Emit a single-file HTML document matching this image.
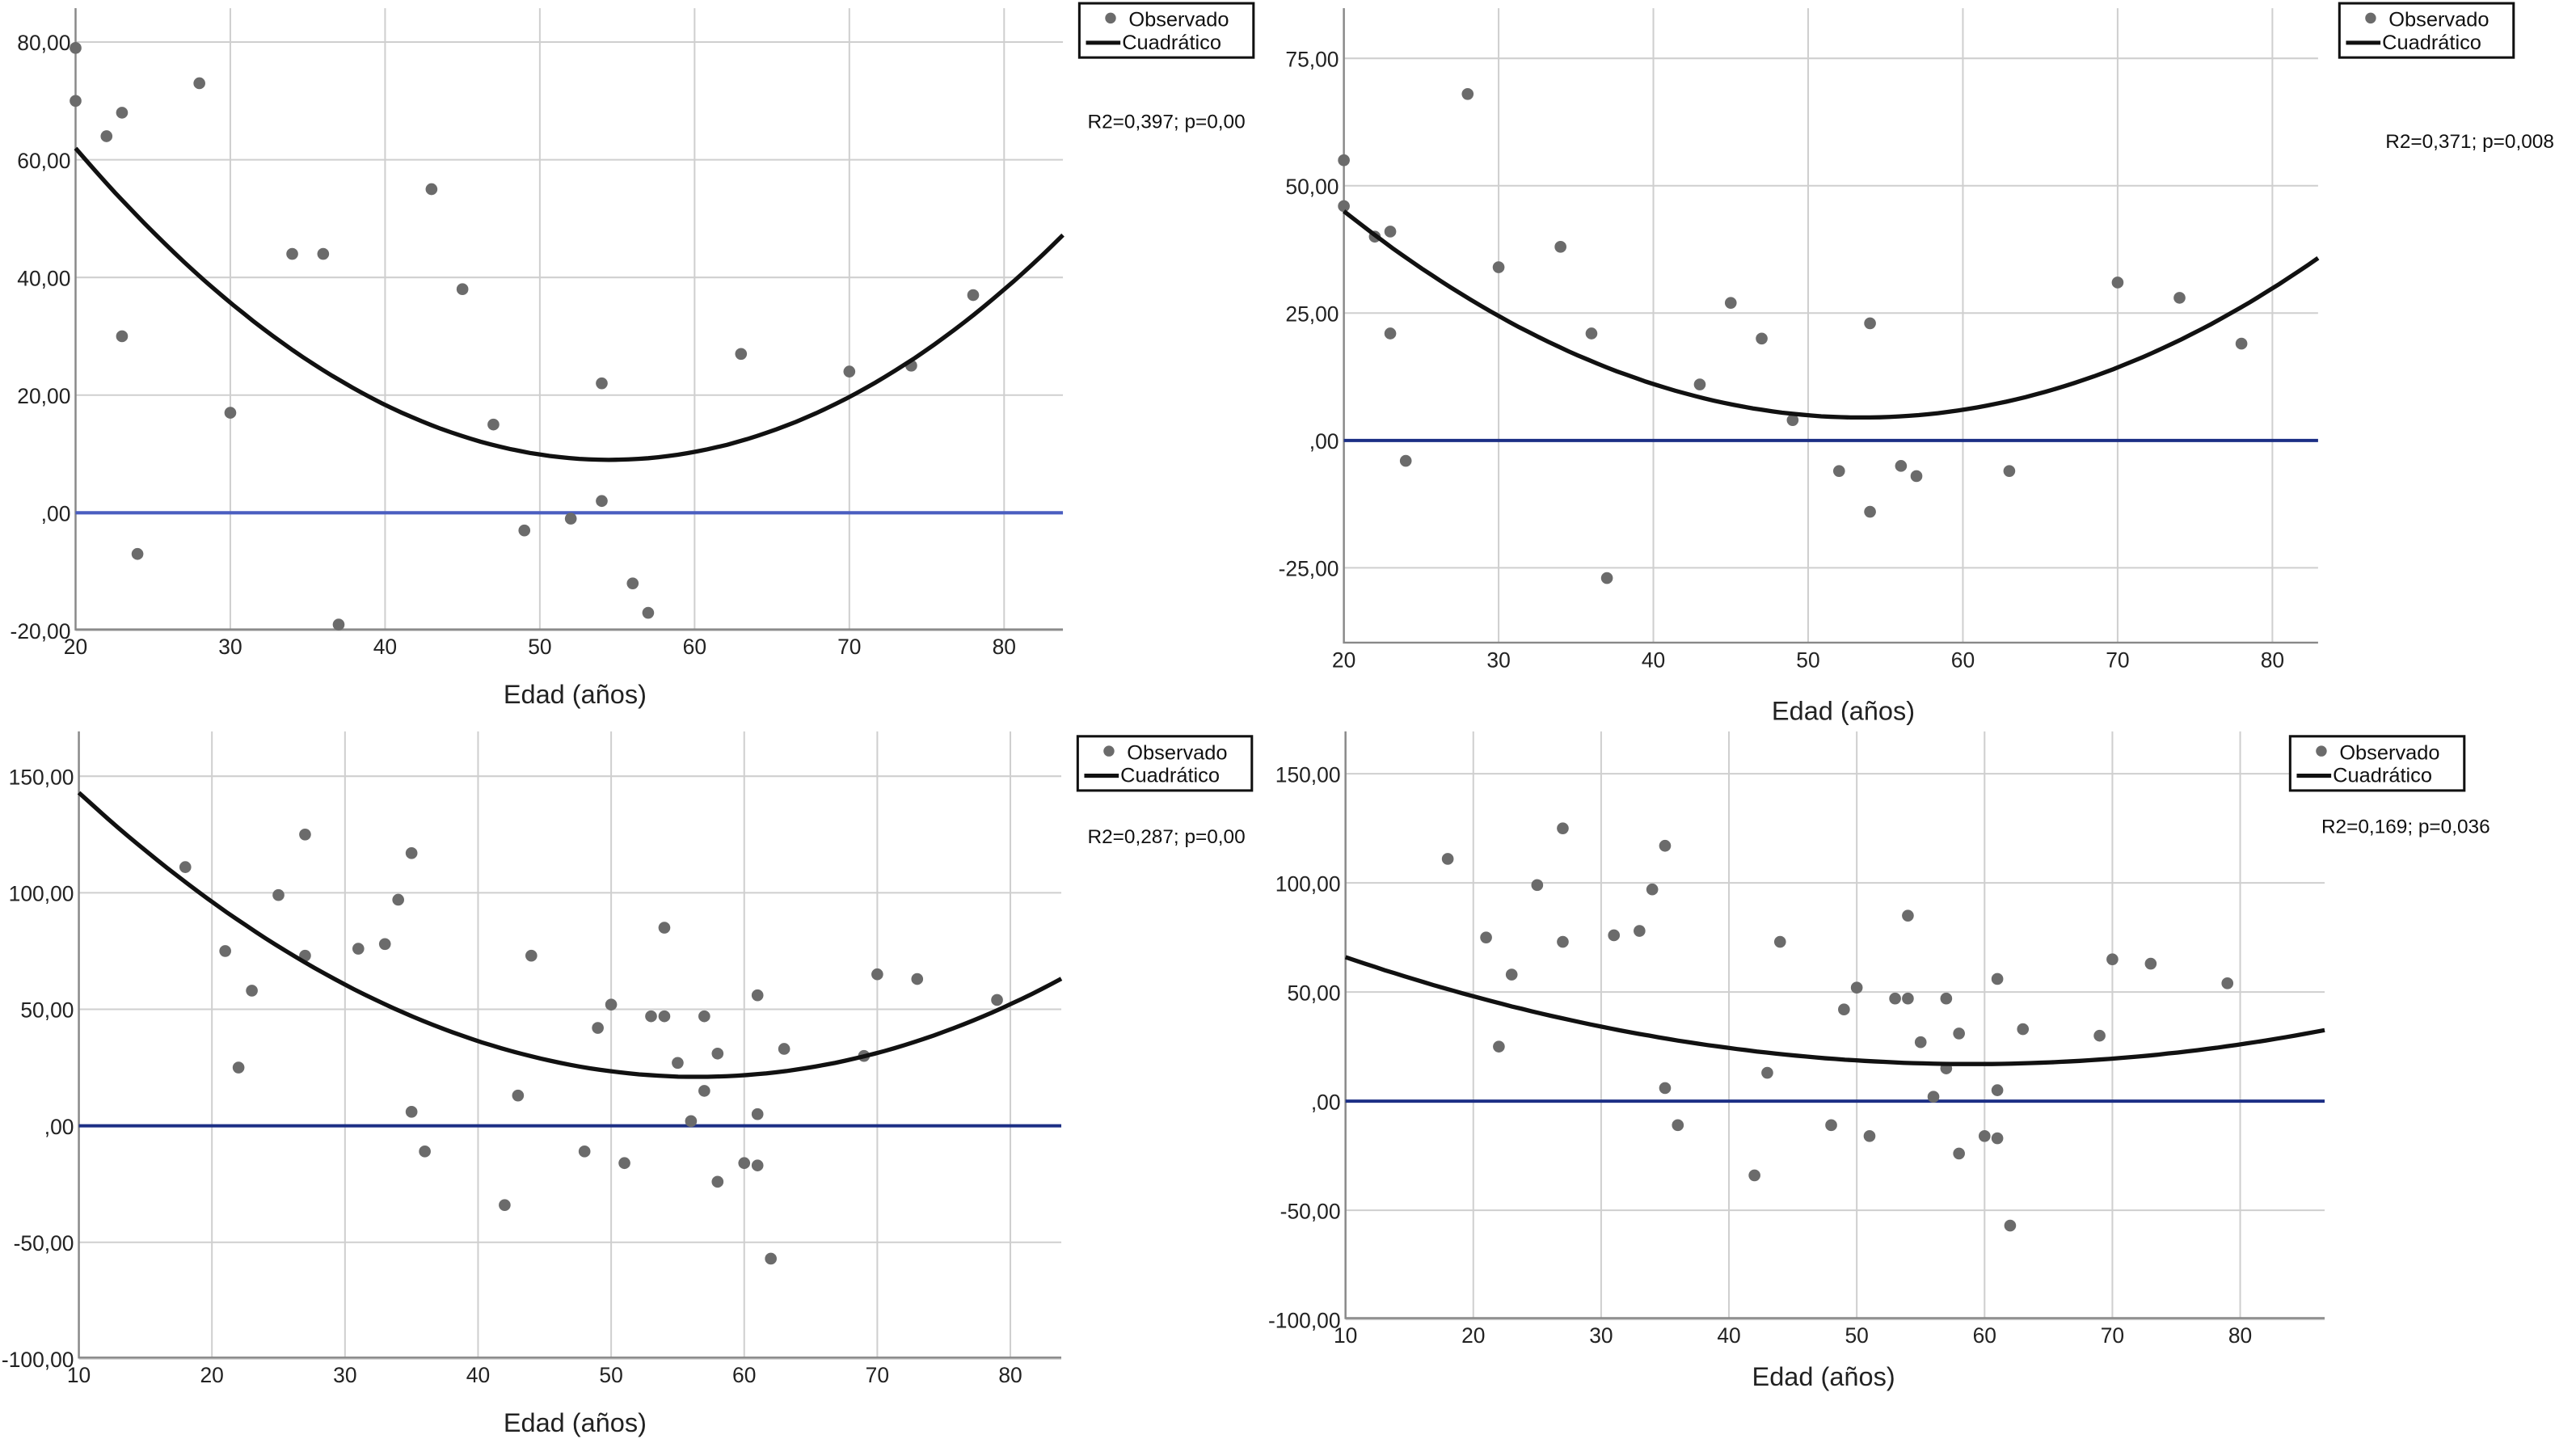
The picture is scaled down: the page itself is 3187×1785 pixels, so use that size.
<!DOCTYPE html>
<html><head><meta charset="utf-8"><style>
html,body{margin:0;padding:0;background:#fff;}
svg{display:block;font-family:"Liberation Sans",sans-serif;}
</style></head><body>
<svg id="root" width="3187" height="1785" viewBox="0 0 1568 878" preserveAspectRatio="none"></svg>
<script>
const p1X=[20,20,22,23,23,24,28,30,34,36,37,43,45,47,49,52,54,54,56,57,63,70,74,78];
const p1Y=[79,70,64,68,30,-7,73,17,44,44,-19,55,38,15,-3,-1,22,2,-12,-17,27,24,25,37];
const p2X=[20,20,22,23,23,24,28,30,34,36,37,43,45,47,49,52,54,54,56,57,63,70,74,78];
const p2Y=[55,46,40,41,21,-4,68,34,38,21,-27,11,27,20,4,-6,23,-14,-5,-7,-6,31,28,19];
const p3X=[18,21,22,23,25,27,27,31,33,34,35,35,36,42,43,44,48,49,50,51,53,54,54,55,56,57,57,58,58,60,61,61,61,62,63,69,70,73,79];
const p3Y=[111,75,25,58,99,125,73,76,78,97,117,6,-11,-34,13,73,-11,42,52,-16,47,85,47,27,2,47,15,31,-24,-16,56,5,-17,-57,33,30,65,63,54];
const p4X=p3X;
const p4Y=p3Y;
const xTicks1=[20,30,40,50,60,70,80];
const xTicks3=[10,20,30,40,50,60,70,80];
const yTicks1=[80,60,40,20,0,-20];
const yTicks2=[75,50,25,0,-25];
const yTicks3=[150,100,50,0,-50,-100];
const yLabels1=["80,00","60,00","40,00","20,00",",00","-20,00"];
const yLabels2=["75,00","50,00","25,00",",00","-25,00"];
const yLabels3=["150,00","100,00","50,00",",00","-50,00","-100,00"];
const curve1=[0.0445,54.5,9];
const curve2=[0.0361,53.5,4.5];
const curve3=[0.0564,56.5,21];
const curve4=[0.0204,59,17];
const stats=["R2=0,397; p=0,00","R2=0,371; p=0,008","R2=0,287; p=0,00","R2=0,169; p=0,036"];

const NS="http://www.w3.org/2000/svg";
const root=document.getElementById('root');
function mk(tag,attrs,parent,text){const e=document.createElementNS(NS,tag);for(const k in attrs)e.setAttribute(k,attrs[k]);if(text!==undefined)e.textContent=text;(parent||root).appendChild(e);return e;}

const panels=[
 {xs:p1X,ys:p1Y,cv:curve1,xt:xTicks1,yt:yTicks1,yl:yLabels1,x0:20,px0:46,ppx:9.42,y0:0,py0:312,ppy:3.58,left:46,right:647,top:5,bottom:383,zero:'#4a5ec0',leg:[657,2],stat:[662,78],xl:[350,423],st:stats[0]},
 {xs:p2X,ys:p2Y,cv:curve2,xt:xTicks1,yt:yTicks2,yl:yLabels2,x0:20,px0:818,ppx:9.42,y0:0,py0:268,ppy:3.1,left:818,right:1411,top:5,bottom:391,zero:'#1c2f85',leg:[1424,2],stat:[1452,90],xl:[1122,433],st:stats[1]},
 {xs:p3X,ys:p3Y,cv:curve3,xt:xTicks3,yt:yTicks3,yl:yLabels3,x0:10,px0:48,ppx:8.1,y0:0,py0:685,ppy:1.418,left:48,right:646,top:445,bottom:826,zero:'#1c2f85',leg:[656,448],stat:[662,513],xl:[350,866],st:stats[2]},
 {xs:p4X,ys:p4Y,cv:curve4,xt:xTicks3,yt:yTicks3,yl:yLabels3,x0:10,px0:819,ppx:7.78,y0:0,py0:670,ppy:1.328,left:819,right:1415,top:445,bottom:802,zero:'#1c2f85',leg:[1394,448],stat:[1413,507],xl:[1110,838],st:stats[3]}
];

panels.forEach((P,i)=>{
 const g=mk('g',{});
 
 
 const sx=v=>P.px0+(v-P.x0)*P.ppx;
 const sy=v=>P.py0-(v-P.y0)*P.ppy;
 P.xt.forEach(t=>{
  const l=mk('line',{x1:sx(t),x2:sx(t),y1:P.top,y2:P.bottom,stroke:'#cfcfcf','stroke-width':1},g);
  
  
  const tx=mk('text',{x:sx(t),y:P.bottom+15,'font-size':13,'text-anchor':'middle',fill:'#222'},g,String(t));
  
  
 });
 P.yt.forEach((t,j)=>{
  const l=mk('line',{x1:P.left,x2:P.right,y1:sy(t),y2:sy(t),stroke:'#cfcfcf','stroke-width':1},g);
  
  
  const tx=mk('text',{x:P.left-3,y:sy(t)+5,'font-size':13,'text-anchor':'end',fill:'#222'},g,P.yl[j]);
  
  
 });
 const ax=mk('path',{d:`M${P.left},${P.top}V${P.bottom}H${P.right}`,stroke:'#888',fill:'none','stroke-width':1.2},g);
 
 
 const z=mk('line',{x1:P.left,x2:P.right,y1:sy(0),y2:sy(0),stroke:P.zero,'stroke-width':2},g);
 
 
 P.xs.forEach((x,k)=>{
  const c=mk('circle',{cx:sx(x),cy:sy(P.ys[k]),r:3.6,fill:'#6b6b6b'},g);
  
  
 });
 const [a,h,kk]=P.cv;
 const xEnd=P.x0+(P.right-P.px0)/P.ppx;
 let d='';
 for(let s=0;s<=100;s++){const x=P.x0+(xEnd-P.x0)*s/100;const y=a*(x-h)*(x-h)+kk;d+=(s?'L':'M')+sx(x).toFixed(1)+','+sy(y).toFixed(1);}
 const cu=mk('path',{d:d,stroke:'#111',fill:'none','stroke-width':2.6},g);
 
 
 const [lx,ly]=P.leg;
 const lg=mk('g',{},g);
 
 
 mk('rect',{x:lx,y:ly,width:106,height:33,fill:'#fff',stroke:'#111','stroke-width':1.5},lg);
 mk('circle',{cx:lx+19,cy:ly+9,r:3.3,fill:'#6b6b6b'},lg);
 mk('text',{x:lx+30,y:ly+14,'font-size':12.5,fill:'#111'},lg,'Observado');
 mk('line',{x1:lx+4,x2:lx+25,y1:ly+24,y2:ly+24,stroke:'#111','stroke-width':2.5},lg);
 mk('text',{x:lx+26,y:ly+28,'font-size':12.5,fill:'#111'},lg,'Cuadrático');
 const st=mk('text',{x:P.stat[0],y:P.stat[1],'font-size':12,fill:'#111'},g,P.st);
 
 
 const xl=mk('text',{x:P.xl[0],y:P.xl[1]+5,'font-size':16,'text-anchor':'middle',fill:'#222'},g,'Edad (años)');
 
 
});
</script>
</body></html>
